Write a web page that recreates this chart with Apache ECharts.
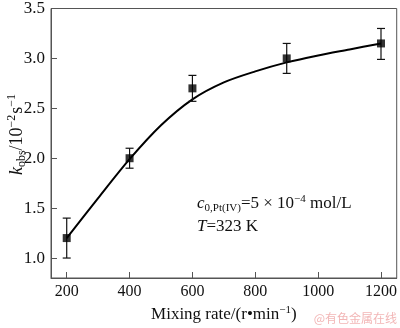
<!DOCTYPE html>
<html><head><meta charset="utf-8">
<script src="https://cdn.jsdelivr.net/npm/echarts@6/dist/echarts.min.js"></script>
<style>html,body{margin:0;padding:0;background:#fff}#c{width:400px;height:328px}</style>
</head><body><div id="c"></div>
<script>
const rates = [200, 400, 600, 900, 1200];
const kobs = [1.2, 2.0, 2.7, 3.0, 3.15];
const errLow = [1.0, 1.9, 2.57, 2.85, 2.99];
const errHigh = [1.4, 2.1, 2.83, 3.15, 3.3];
const fitX = [200, 300, 400, 500, 600, 700, 800, 900, 1000, 1100, 1200];
const fitY = [1.2, 1.6, 1.99, 2.33, 2.59, 2.76, 2.87, 2.96, 3.03, 3.09, 3.15];
const xTicks = [200, 400, 600, 800, 1000, 1200];
const yTicks = [1.0, 1.5, 2.0, 2.5, 3.0, 3.5];

const serif = '"Liberation Serif", "Times New Roman", serif';
const axisColor = '#555';
const chart = echarts.init(document.getElementById('c'), null, {renderer: 'canvas'});

const errData = rates.map((x, i) => [x, errLow[i], errHigh[i]]);
const ptData = rates.map((x, i) => [x, kobs[i]]);
const fitData = fitX.map((x, i) => [x, fitY[i]]);

chart.setOption({
  animation: false,
  grid: {left: 51, right: 2, top: 5, bottom: 44, show: true, borderColor: axisColor, borderWidth: 1},
  xAxis: {
    type: 'value', min: 150, max: 1250,
    splitLine: {show: false},
    axisLine: {lineStyle: {color: axisColor}},
    axisTick: {inside: true, length: 6, customValues: xTicks, lineStyle: {color: axisColor}},
    axisLabel: {customValues: xTicks, formatter: v => String(v), color: '#111', fontFamily: serif, fontSize: 16, margin: 6},
    name: 'Mixing rate/(r\u2022min{sup|\u22121})',
    nameLocation: 'middle', nameGap: 27,
    nameTextStyle: {color: '#111', fontFamily: serif, fontSize: 17,
      rich: {sup: {fontFamily: serif, fontSize: 11, padding: [0, 0, 8, 0], color: '#111'}}}
  },
  yAxis: {
    type: 'value', min: 0.8, max: 3.5,
    splitLine: {show: false},
    axisLine: {lineStyle: {color: axisColor}},
    axisTick: {inside: true, length: 6, customValues: yTicks, lineStyle: {color: axisColor}},
    axisLabel: {customValues: yTicks, formatter: v => v.toFixed(1), color: '#111', fontFamily: serif, fontSize: 17, margin: 6}
  },
  graphic: [
    {type: 'text', x: 17, y: 134, rotation: Math.PI / 2, style: {
      text: '{it|k}{sub|obs}{n|/10}{sup|\u22122}{n|s}{sup|\u22121}',
      align: 'center', verticalAlign: 'middle', fill: '#111',
      rich: {
        it: {fontFamily: serif, fontSize: 18, fontStyle: 'italic', fill: '#111'},
        sub: {fontFamily: serif, fontSize: 12, padding: [9, 0, 0, 0], fill: '#111'},
        n: {fontFamily: serif, fontSize: 18, fill: '#111'},
        sup: {fontFamily: serif, fontSize: 12, padding: [0, 1, 10, 0], fill: '#111'}
      }}},
    {type: 'text', left: 197, top: 194, style: {
      text: '{it|c}{sub|0,Pt(IV)}{n|=5 \u00d7 10}{sup|\u22124}{n| mol/L}',
      fill: '#111',
      rich: {
        it: {fontFamily: serif, fontSize: 17, fontStyle: 'italic', fill: '#111'},
        sub: {fontFamily: serif, fontSize: 11, padding: [9, 0, 0, 0], fill: '#111'},
        n: {fontFamily: serif, fontSize: 17, fill: '#111'},
        sup: {fontFamily: serif, fontSize: 11, padding: [0, 0, 9, 0], fill: '#111'}
      }}},
    {type: 'text', left: 197, top: 218, style: {
      text: '{it|T}{n|=323 K}', fill: '#111',
      rich: {
        it: {fontFamily: serif, fontSize: 17, fontStyle: 'italic', fill: '#111'},
        n: {fontFamily: serif, fontSize: 17, fill: '#111'}
      }}},
    {type: 'text', right: 3, top: 312, style: {
      text: '@有色金属在线', fill: '#f2b6b6',
      font: '12px "Noto Sans CJK SC", sans-serif'}}
  ],
  series: [
    {type: 'line', data: fitData, smooth: 0.3, showSymbol: false, symbol: 'none',
      lineStyle: {color: '#000', width: 2}, z: 2},
    {type: 'custom', data: errData, z: 3,
      renderItem: function (params, api) {
        const x = api.value(0);
        const lo = api.coord([x, api.value(1)]);
        const hi = api.coord([x, api.value(2)]);
        const w = 4;
        const st = {stroke: '#111', lineWidth: 1.2};
        return {type: 'group', children: [
          {type: 'line', shape: {x1: lo[0], y1: lo[1], x2: hi[0], y2: hi[1]}, style: st},
          {type: 'line', shape: {x1: lo[0] - w, y1: lo[1], x2: lo[0] + w, y2: lo[1]}, style: st},
          {type: 'line', shape: {x1: hi[0] - w, y1: hi[1], x2: hi[0] + w, y2: hi[1]}, style: st}
        ]};
      }},
    {type: 'scatter', data: ptData, symbol: 'rect', symbolSize: 8,
      itemStyle: {color: '#000'}, z: 4}
  ]
});
</script>
</body></html>
